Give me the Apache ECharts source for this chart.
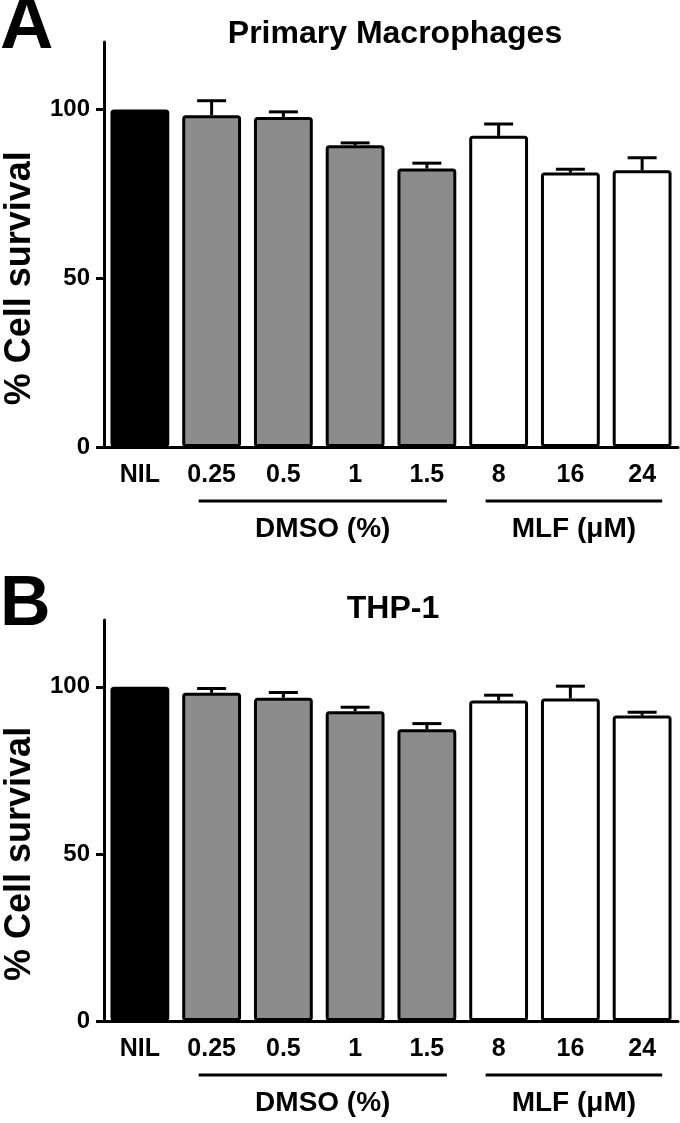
<!DOCTYPE html>
<html>
<head>
<meta charset="utf-8">
<script src="https://cdn.jsdelivr.net/npm/echarts@6/dist/echarts.min.js"></script>
<style>
html,body{margin:0;padding:0;background:#fff;}
#c{width:680px;height:1123px;}
</style>
</head>
<body>
<div id="c"></div>
<script>
var categories = ['NIL', '0.25', '0.5', '1', '1.5', '8', '16', '24'];
var macroMean = [100, 98.3, 97.8, 89.4, 82.5, 92.2, 81.3, 82.0];
var macroErr  = [0, 4.3, 1.5, 0.7, 1.6, 3.5, 1.0, 3.7];
var thpMean   = [100, 98.2, 96.7, 92.7, 87.3, 95.9, 96.5, 91.4];
var thpErr    = [0, 1.3, 1.6, 1.2, 1.7, 1.6, 3.7, 1.0];
var groups = [[1, 4, 'DMSO (%)'], [5, 7, 'MLF (\u03bcM)']];
var yTicks = [0, 50, 100];
var yName = '% Cell survival';
var titles = ['Primary Macrophages', 'THP-1'];
var panelLetters = ['A', 'B'];

var FONT = '"Liberation Sans", Arial, Helvetica, sans-serif';
var barColors = ['#000000', '#8c8c8c', '#8c8c8c', '#8c8c8c', '#8c8c8c', '#ffffff', '#ffffff', '#ffffff'];

var chart = echarts.init(document.getElementById('c'), null, {renderer: 'canvas'});

function xAxisDef(gi) {
  return {
    type: 'category', gridIndex: gi, data: categories,
    axisLine: {lineStyle: {color: '#000', width: 3}},
    axisTick: {alignWithLabel: true, length: 8, lineStyle: {color: '#000', width: 3}},
    axisLabel: {color: '#000', fontSize: 25, fontWeight: 'bold', fontFamily: FONT, margin: 16, interval: 0},
    splitLine: {show: false}
  };
}
function yAxisDef(gi) {
  return {
    type: 'value', gridIndex: gi, min: 0, max: 120,
    axisLine: {show: true, lineStyle: {color: '#000', width: 3}},
    axisTick: {show: true, length: 8, lineStyle: {color: '#000', width: 3}, customValues: yTicks},
    axisLabel: {color: '#000', fontSize: 24, fontWeight: 'bold', fontFamily: FONT, margin: 14, customValues: yTicks},
    splitLine: {show: false}
  };
}
function barSeries(gi, means) {
  return {
    type: 'bar', xAxisIndex: gi, yAxisIndex: gi, barWidth: '82%',
    data: means.map(function (v, i) {
      return {value: v, itemStyle: {color: barColors[i], borderColor: '#000', borderWidth: 3, borderRadius: 2}};
    }),
    z: 2, silent: true
  };
}
function errSeries(gi, means, errs) {
  return {
    type: 'custom', xAxisIndex: gi, yAxisIndex: gi, z: 3, silent: true,
    data: means.map(function (v, i) { return [i, v, errs[i]]; }),
    renderItem: function (params, api) {
      var i = api.value(0), v = api.value(1), e = api.value(2);
      if (!e) return null;
      var b = api.coord([i, v]);
      var t = api.coord([i, v + e]);
      var hw = 14.5;
      return {type: 'group', children: [
        {type: 'line', shape: {x1: b[0], y1: b[1], x2: t[0], y2: t[1]}, style: {stroke: '#000', lineWidth: 3}},
        {type: 'line', shape: {x1: t[0] - hw, y1: t[1], x2: t[0] + hw, y2: t[1]}, style: {stroke: '#000', lineWidth: 3}}
      ]};
    }
  };
}
function groupSeries(gi) {
  return {
    type: 'custom', xAxisIndex: gi, yAxisIndex: gi, z: 3, silent: true, clip: false,
    data: groups.map(function (g, k) { return [g[0], g[1], k]; }),
    renderItem: function (params, api) {
      var k = api.value(2);
      var p1 = api.coord([api.value(0), 0]);
      var p2 = api.coord([api.value(1), 0]);
      var y = p1[1] + 54;
      var x1 = p1[0] - 13, x2 = p2[0] + 20;
      return {type: 'group', children: [
        {type: 'line', shape: {x1: x1, y1: y, x2: x2, y2: y}, style: {stroke: '#000', lineWidth: 3}},
        {type: 'text', x: (x1 + x2) / 2, y: y + 28,
          style: {text: groups[k][2], fill: '#000', font: 'bold 28px ' + FONT, textAlign: 'center', textVerticalAlign: 'middle'}}
      ]};
    }
  };
}
function yNameSeries(gi) {
  return {
    type: 'custom', xAxisIndex: gi, yAxisIndex: gi, z: 3, silent: true, clip: false,
    data: [[0, 50]],
    renderItem: function (params, api) {
      var c = api.coord([0, api.value(1)]);
      return {type: 'text', x: params.coordSys.x - 84, y: c[1], rotation: Math.PI / 2,
        style: {text: yName, fill: '#000', font: 'bold 36px ' + FONT, textAlign: 'center', textVerticalAlign: 'middle'}};
    }
  };
}

var option = {
  backgroundColor: '#fff',
  animation: false,
  grid: [
    {left: 104, right: 2, top: 42, bottom: 676, containLabel: false},
    {left: 104, right: 2, top: 620, bottom: 102, containLabel: false}
  ],
  xAxis: [xAxisDef(0), xAxisDef(1)],
  yAxis: [yAxisDef(0), yAxisDef(1)],
  graphic: [
    {type: 'text', left: 0, top: -9, style: {text: panelLetters[0], fill: '#000', font: 'bold 74px ' + FONT}},
    {type: 'text', left: 0, top: 571, style: {text: panelLetters[1], fill: '#000', font: 'bold 70px ' + FONT}},
    {type: 'text', x: 395, y: 34, style: {text: titles[0], fill: '#000', font: 'bold 32px ' + FONT, textAlign: 'center', textVerticalAlign: 'middle'}},
    {type: 'text', x: 393, y: 609, style: {text: titles[1], fill: '#000', font: 'bold 32px ' + FONT, textAlign: 'center', textVerticalAlign: 'middle'}}
  ],
  series: [
    barSeries(0, macroMean), errSeries(0, macroMean, macroErr), groupSeries(0), yNameSeries(0),
    barSeries(1, thpMean), errSeries(1, thpMean, thpErr), groupSeries(1), yNameSeries(1)
  ]
};
chart.setOption(option);
</script>
</body>
</html>
